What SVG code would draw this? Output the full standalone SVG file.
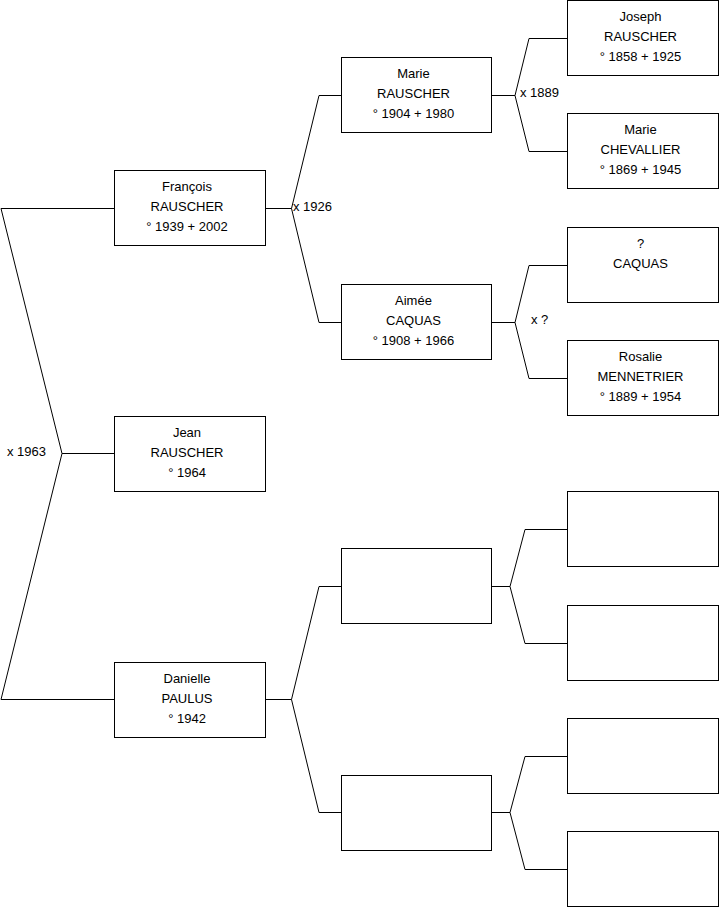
<svg xmlns="http://www.w3.org/2000/svg" width="719" height="908" viewBox="0 0 719 908">
<style>
.box{fill:#fff;stroke:#000;stroke-width:1}
.ln{fill:none;stroke:#000;stroke-width:1}
text{font-family:"Liberation Sans",Arial,sans-serif;font-size:13px;fill:#000}
.c{text-anchor:middle}
</style>
<rect width="719" height="908" fill="#fff"/>
<g id="connectors">
<path class="ln" d="M114,208.5 H1 L62,453.5 L1,699.5 H114 M62,453.5 H114"/>
<path class="ln" d="M265,208.5 H291.5 L319,95.5 H341 M291.5,208.5 L319,322.5 H341"/>
<path class="ln" d="M265,699.5 H291.5 L319,586.5 H341 M291.5,699.5 L319,812.5 H341"/>
<path class="ln" d="M491,95.5 H515 L529,38.5 H567 M515,95.5 L529,151.5 H567"/>
<path class="ln" d="M491,322.5 H515 L529,265.5 H567 M515,322.5 L529,378.5 H567"/>
<path class="ln" d="M491,586.5 H510 L525,529.5 H567 M510,586.5 L525,643.5 H567"/>
<path class="ln" d="M491,812.5 H510 L525,756.5 H567 M510,812.5 L525,869.5 H567"/>
<text x="7" y="456">x 1963</text>
<text x="293" y="211">x 1926</text>
<text x="520" y="97">x 1889</text>
<text x="531" y="324">x ?</text>
</g>
<g id="francois"><rect class="box" x="114.5" y="170.5" width="151" height="75"/>
<text class="c" x="187" y="191">François</text><text class="c" x="187" y="211">RAUSCHER</text><text class="c" x="187" y="231">° 1939 + 2002</text></g>
<g id="jean"><rect class="box" x="114.5" y="416.5" width="151" height="75"/>
<text class="c" x="187" y="437">Jean</text><text class="c" x="187" y="457">RAUSCHER</text><text class="c" x="187" y="477">° 1964</text></g>
<g id="danielle"><rect class="box" x="114.5" y="662.5" width="151" height="75"/>
<text class="c" x="187" y="683">Danielle</text><text class="c" x="187" y="703">PAULUS</text><text class="c" x="187" y="723">° 1942</text></g>
<g id="marie_r"><rect class="box" x="341.5" y="57.5" width="150" height="75"/>
<text class="c" x="413.5" y="78">Marie</text><text class="c" x="413.5" y="98">RAUSCHER</text><text class="c" x="413.5" y="118">° 1904 + 1980</text></g>
<g id="aimee"><rect class="box" x="341.5" y="284.5" width="150" height="75"/>
<text class="c" x="413.5" y="305">Aimée</text><text class="c" x="413.5" y="325">CAQUAS</text><text class="c" x="413.5" y="345">° 1908 + 1966</text></g>
<g id="empty_a"><rect class="box" x="341.5" y="548.5" width="150" height="75"/></g>
<g id="empty_b"><rect class="box" x="341.5" y="775.5" width="150" height="75"/></g>
<g id="joseph"><rect class="box" x="567.5" y="0.5" width="151" height="75"/>
<text class="c" x="640.5" y="21">Joseph</text><text class="c" x="640.5" y="41">RAUSCHER</text><text class="c" x="640.5" y="61">° 1858 + 1925</text></g>
<g id="marie_c"><rect class="box" x="567.5" y="113.5" width="151" height="75"/>
<text class="c" x="640.5" y="134">Marie</text><text class="c" x="640.5" y="154">CHEVALLIER</text><text class="c" x="640.5" y="174">° 1869 + 1945</text></g>
<g id="caquas"><rect class="box" x="567.5" y="227.5" width="151" height="75"/>
<text class="c" x="640.5" y="248">?</text><text class="c" x="640.5" y="268">CAQUAS</text></g>
<g id="rosalie"><rect class="box" x="567.5" y="340.5" width="151" height="75"/>
<text class="c" x="640.5" y="361">Rosalie</text><text class="c" x="640.5" y="381">MENNETRIER</text><text class="c" x="640.5" y="401">° 1889 + 1954</text></g>
<g id="empty_c"><rect class="box" x="567.5" y="491.5" width="151" height="75"/></g>
<g id="empty_d"><rect class="box" x="567.5" y="605.5" width="151" height="75"/></g>
<g id="empty_e"><rect class="box" x="567.5" y="718.5" width="151" height="75"/></g>
<g id="empty_f"><rect class="box" x="567.5" y="831.5" width="151" height="75"/></g>
</svg>
